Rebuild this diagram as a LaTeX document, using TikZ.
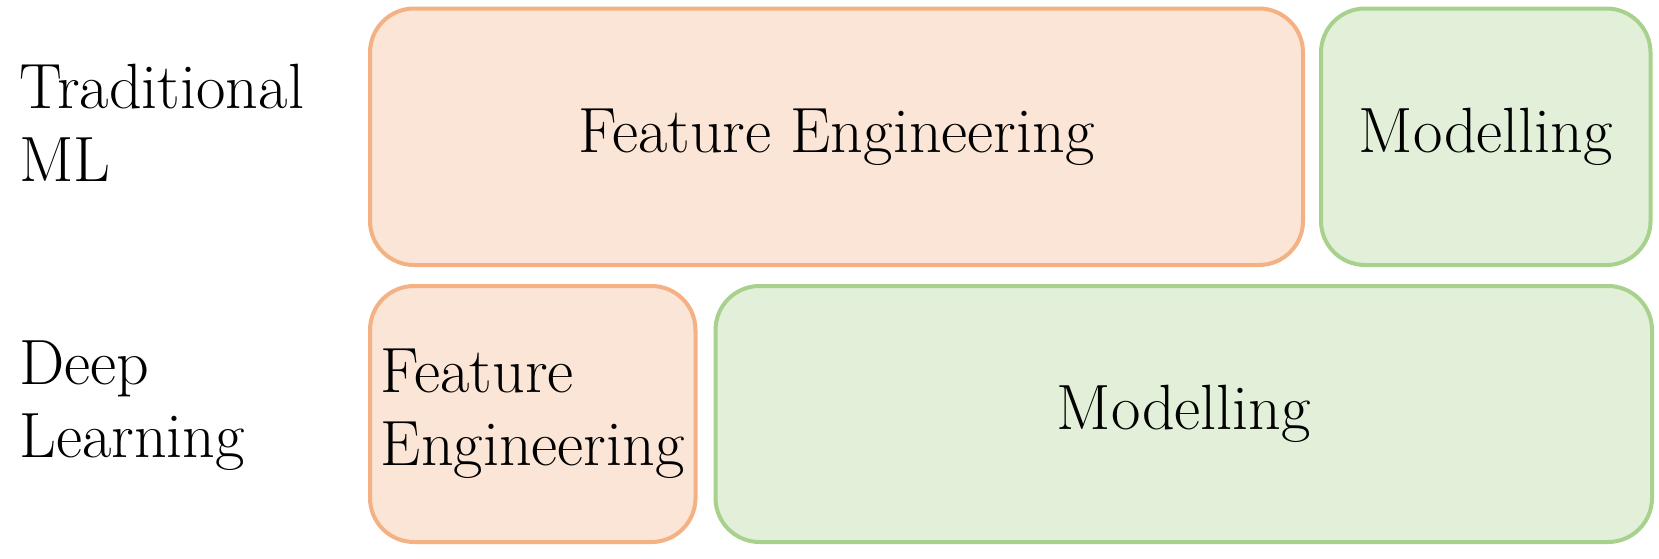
\documentclass[tikz,border=0pt]{standalone}
\usepackage{tikz}
\definecolor{feFill}{HTML}{FBE5D6}
\definecolor{feDraw}{HTML}{F4B183}
\definecolor{mdFill}{HTML}{E2F0D9}
\definecolor{mdDraw}{HTML}{A9D18E}
\tikzset{
  px/.style={x=0.5pt,y=-0.5pt},
  stagebox/.style={rectangle, rounded corners=22pt, line width=2pt, inner sep=0pt,
    font=\fontsize{32}{36.5}\selectfont, align=left},
  febox/.style={stagebox, fill=feFill, draw=feDraw},
  mdbox/.style={stagebox, fill=mdFill, draw=mdDraw},
  rowlabel/.style={anchor=west, inner sep=0pt, align=left, font=\fontsize{32}{36.5}\selectfont},
}
\begin{document}
\begin{tikzpicture}[px]
\useasboundingbox (0,0) rectangle (1659,558);
\node[febox, minimum width=466.5pt, minimum height=128.25pt] (fe1) at (836.5,136.75) {Feature Engineering};
\node[mdbox, minimum width=164.75pt, minimum height=128.25pt] (md1) at (1485.75,136.75) {Modelling};
\node[febox, minimum width=162.75pt, minimum height=128pt] (fe2) at (532.75,414) {Feature\\Engineering};
\node[mdbox, minimum width=468.25pt, minimum height=128pt] (md2) at (1183.75,414) {Modelling};
\node[rowlabel] (lab1) at (19,123) {Traditional\\ML};
\node[rowlabel] (lab2) at (19,406) {Deep\\Learning};
\end{tikzpicture}
\end{document}
